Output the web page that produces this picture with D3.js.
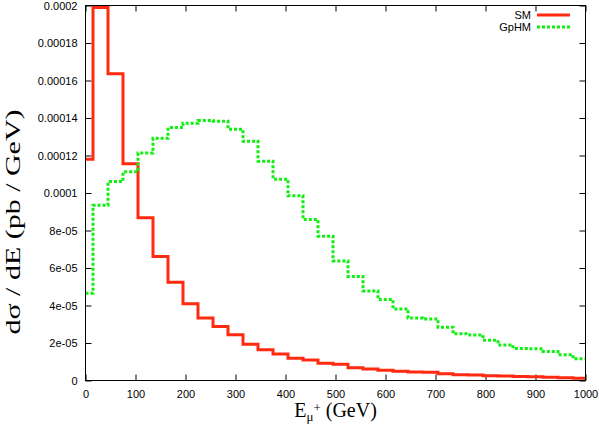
<!DOCTYPE html>
<html>
<head>
<meta charset="utf-8">
<script src="https://cdn.jsdelivr.net/npm/d3@7"></script>
<style>
  body { margin: 0; background: #fff; }
  text { font-family: "Liberation Sans", Arial, sans-serif; }
</style>
</head>
<body>
<div id="vis"></div>
<script>
// bin centres (GeV), histogram drawn as histeps
const energy = [0, 30, 60, 90, 120, 150, 180, 210, 240, 270, 300, 330, 360, 390, 420, 450, 480,
    510, 540, 570, 600, 630, 660, 690, 720, 750, 780, 810, 840, 870, 900, 930, 960, 990];

const smValues = [1.18e-4, 1.99e-4, 1.636e-4, 1.156e-4, 8.68e-5, 6.61e-5, 5.24e-5, 4.09e-5, 3.34e-5, 2.88e-5,
    2.44e-5, 1.94e-5, 1.64e-5, 1.42e-5, 1.19e-5, 1.10e-5, 9.2e-6, 8.7e-6, 6.8e-6, 6.2e-6,
    5.5e-6, 5.0e-6, 4.6e-6, 4.4e-6, 3.6e-6, 3.1e-6, 2.9e-6, 2.6e-6, 2.4e-6, 2.1e-6,
    2.0e-6, 1.7e-6, 1.5e-6, 1.2e-6];

const gphmValues = [4.66e-5, 9.35e-5, 1.061e-4, 1.113e-4, 1.214e-4, 1.292e-4, 1.349e-4, 1.372e-4, 1.387e-4, 1.383e-4,
    1.340e-4, 1.276e-4, 1.17e-4, 1.074e-4, 9.85e-5, 8.59e-5, 7.70e-5, 6.38e-5, 5.55e-5, 4.78e-5,
    4.32e-5, 3.82e-5, 3.33e-5, 3.28e-5, 2.84e-5, 2.49e-5, 2.43e-5, 2.15e-5, 1.90e-5, 1.71e-5,
    1.69e-5, 1.55e-5, 1.38e-5, 1.16e-5];

const xTicks = [0, 100, 200, 300, 400, 500, 600, 700, 800, 900, 1000];
const yTicks = [0, 2e-5, 4e-5, 6e-5, 8e-5, 1e-4, 1.2e-4, 1.4e-4, 1.6e-4, 1.8e-4, 2e-4];
const yTickLabels = ["0", "2e-05", "4e-05", "6e-05", "8e-05", "0.0001", "0.00012", "0.00014", "0.00016", "0.00018", "0.0002"];

const series = [
    { name: "SM", values: smValues, color: "#ff2a10", dash: null },
    { name: "GpHM", values: gphmValues, color: "#11ee11", dash: "3,2" }
];

const W = 599, H = 426;
const mLeft = 85.5, mRight = 585.5, mTop = 5.5, mBottom = 380.5;

const svg = d3.select("#vis").append("svg");
svg.attr("width", W).attr("height", H);

const x = d3.scaleLinear().domain([0, 1000]).range([mLeft, mRight]);
const y = d3.scaleLinear().domain([0, 0.0002]).range([mBottom, mTop]);

svg.append("defs").append("clipPath")
    .attr("id", "plotClip")
    .append("rect")
    .attr("x", mLeft).attr("y", mTop)
    .attr("width", mRight - mLeft).attr("height", mBottom - mTop);

// ticks on all four sides, pointing inwards
svg.append("g")
    .attr("transform", `translate(0, ${mBottom})`)
    .call(d3.axisBottom(x).tickValues(xTicks).tickSize(-6).tickPadding(10).tickFormat(d3.format("d")))
    .call(g => g.select(".domain").remove())
    .call(g => g.selectAll("text").style("font-size", "11px").attr("fill", "#000"));

svg.append("g")
    .attr("transform", `translate(0, ${mTop})`)
    .call(d3.axisTop(x).tickValues(xTicks).tickSize(-6).tickFormat(""))
    .call(g => g.select(".domain").remove());

svg.append("g")
    .attr("transform", `translate(${mLeft}, 0)`)
    .call(d3.axisLeft(y).tickValues(yTicks).tickSize(-6).tickPadding(8)
        .tickFormat((d, i) => yTickLabels[i]))
    .call(g => g.select(".domain").remove())
    .call(g => g.selectAll("text").style("font-size", "11px").attr("fill", "#000"));

svg.append("g")
    .attr("transform", `translate(${mRight}, 0)`)
    .call(d3.axisRight(y).tickValues(yTicks).tickSize(-6).tickFormat(""))
    .call(g => g.select(".domain").remove());

// histeps: step at the midpoint between neighbouring bins, last bin runs to the edge
const line = d3.line()
    .x(d => x(d[0]))
    .y(d => y(d[1]))
    .curve(d3.curveStep);

svg.append("g")
    .attr("clip-path", "url(#plotClip)")
    .selectAll(".hist")
    .data(series)
    .join("path")
    .attr("class", "hist")
    .attr("fill", "none")
    .attr("stroke", d => d.color)
    .attr("stroke-width", 3)
    .attr("stroke-dasharray", d => d.dash)
    .attr("d", d => {
        let pts = energy.map((e, i) => [e, d.values[i]]);
        pts.push([x.domain()[1], d.values[d.values.length - 1]]);
        return line(pts);
    });

svg.append("rect")
    .attr("x", mLeft).attr("y", mTop)
    .attr("width", mRight - mLeft).attr("height", mBottom - mTop)
    .attr("fill", "none")
    .attr("stroke", "#000")
    .attr("stroke-width", 1);

// legend
const legend = svg.selectAll(".legend")
    .data(series)
    .join("g")
    .attr("class", "legend")
    .attr("transform", (_, i) => `translate(0, ${15 + i * 12})`);

legend.append("text")
    .attr("x", 531)
    .attr("y", 4)
    .attr("text-anchor", "end")
    .style("font-size", "11px")
    .text(d => d.name);

legend.append("line")
    .attr("x1", 537).attr("x2", 570)
    .attr("y1", 0).attr("y2", 0)
    .attr("stroke", d => d.color)
    .attr("stroke-width", 3)
    .attr("stroke-dasharray", d => d.dash);

// axis titles
const xTitle = svg.append("text")
    .attr("x", (mLeft + mRight) / 2)
    .attr("y", 417)
    .attr("text-anchor", "middle")
    .style("font-family", "'Liberation Serif', 'Times New Roman', serif")
    .style("font-size", "20px");
xTitle.append("tspan").text("E");
xTitle.append("tspan").attr("dy", 4).style("font-size", "13px").text("μ");
xTitle.append("tspan").attr("dy", -9).style("font-size", "13px").text("+");
xTitle.append("tspan").attr("dy", 5).text(" (GeV)");

svg.append("text")
    .attr("transform", "translate(20, 222) rotate(-90)")
    .attr("text-anchor", "middle")
    .attr("textLength", 225)
    .attr("lengthAdjust", "spacingAndGlyphs")
    .style("font-family", "'Liberation Serif', 'Times New Roman', serif")
    .style("font-size", "20px")
    .text("dσ / dE (pb / GeV)");
</script>
</body>
</html>
